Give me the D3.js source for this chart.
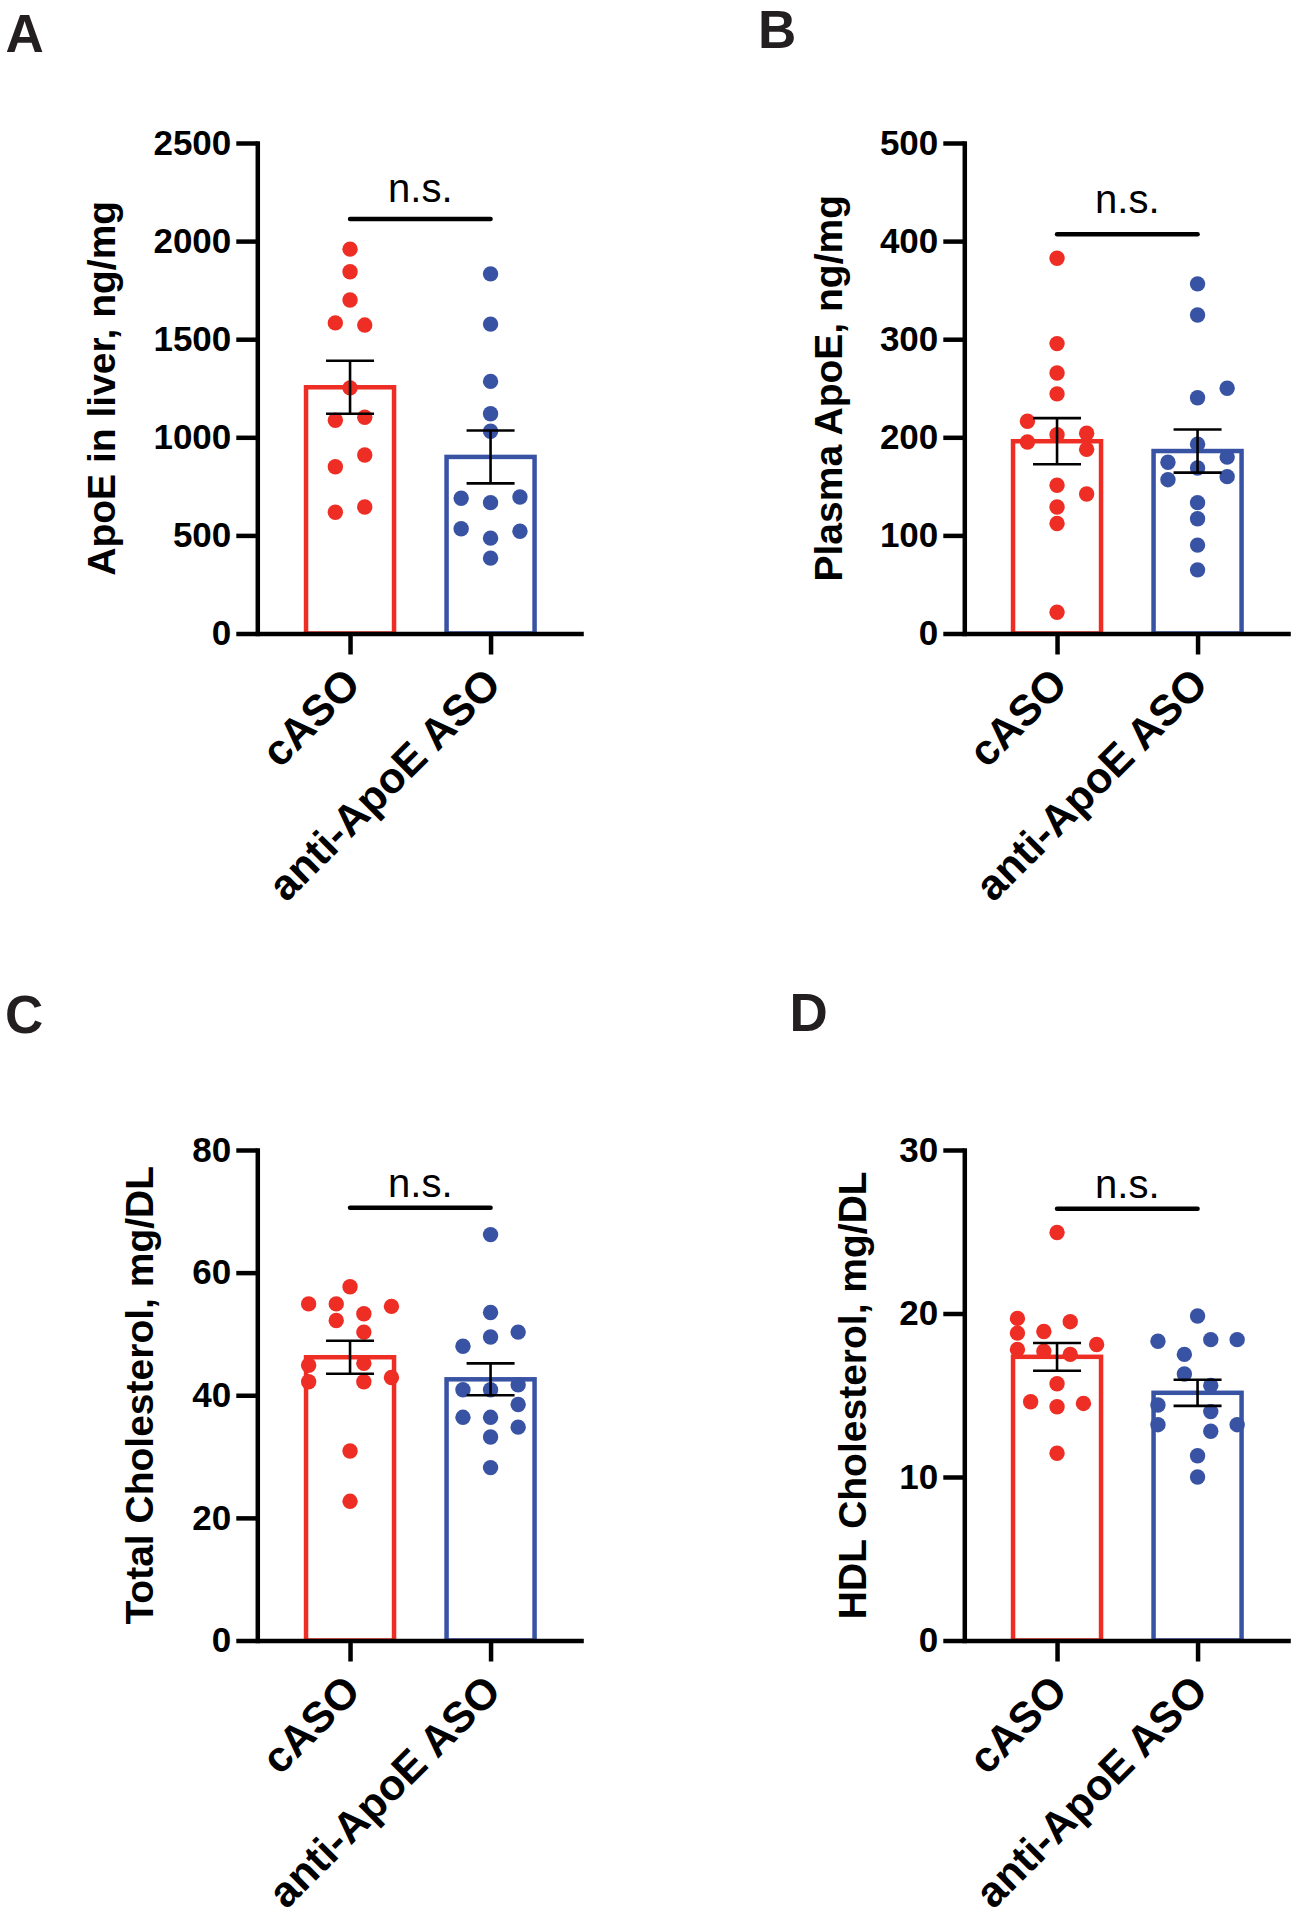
<!DOCTYPE html>
<html>
<head>
<meta charset="utf-8">
<script src="https://cdn.jsdelivr.net/npm/d3@7"></script>
<style>
  body { margin: 0; background: #fff; }
  svg { display: block; }
  text { font-family: "Liberation Sans", Arial, Helvetica, sans-serif; }
</style>
</head>
<body>
<svg id="fig" width="1297" height="1920"></svg>
<script>
/* ===== data ===== */
const groups = ["cASO", "anti-ApoE ASO"];
const groupColors = ["#ee2e24", "#3953a4"];

// A - ApoE in liver, ng/mg
const liverCaso = [1959, 1844, 1700, 1583, 1572, 1252, 1102, 1087, 910, 850, 645, 618];
const liverCasoLane = [0, 0, 0, -1, 1, 0, 1, -1, 1, -1, 1, -1];
const liverAnti = [1833, 1577, 1285, 1120, 1031, 696, 689, 667, 534, 521, 486, 384];
const liverAntiLane = [0, 0, 0, 0, 0, 2, -2, 0, -2, 2, 0, 0];
const liverMean = [1255, 900];
const liverSem = [135, 135];
const liverTicks = [0, 500, 1000, 1500, 2000, 2500];
const liverSig = 2113;

// B - Plasma ApoE, ng/mg
const plasmaCaso = [382.5, 295.5, 265.5, 244.3, 216.4, 202.7, 204.1, 195.2, 187.7, 151.1, 142.2, 129, 112.2, 21.6];
const plasmaCasoLane = [0, 0, 0, 0, -2, 0, 2, -2, 2, 0, 2, 0, 0, 0];
const plasmaAnti = [356.4, 324.6, 250, 240.3, 193, 174.5, 168.7, 179.8, 156.8, 159.9, 133.4, 117, 90.1, 64.9];
const plasmaAntiLane = [0, 0, 2, 0, 0, -2, 0, 2, -2, 2, 0, 0, 0, 0];
const plasmaMean = [196, 186];
const plasmaSem = [23.5, 22];
const plasmaTicks = [0, 100, 200, 300, 400, 500];
const plasmaSig = 407;

// C - Total Cholesterol, mg/DL
const tcCaso = [57.7, 54.9, 54.9, 54.5, 52.2, 53.3, 50.3, 44.9, 45.2, 42.2, 42.2, 42.9, 30.9, 22.7];
const tcCasoLane = [0, -3, -1, 3, -1, 1, 1, -3, 1, -3, 1, 3, 0, 0];
const tcAnti = [66.2, 53.5, 49.5, 50.3, 48, 40.9, 40.9, 41.7, 38.5, 36.4, 36.4, 34.8, 33.2, 28.2];
const tcAntiLane = [0, 0, 0, 2, -2, -2, 0, 2, 2, -2, 0, 2, 0, 0];
const tcMean = [46.2, 42.6];
const tcSem = [2.7, 2.6];
const tcTicks = [0, 20, 40, 60, 80];
const tcSig = 70.6;

// D - HDL Cholesterol, mg/DL
const hdlCaso = [24.95, 19.7, 19.5, 18.8, 18.9, 18.1, 17.8, 17.7, 17.5, 15.7, 14.6, 14.3, 14.5, 11.45];
const hdlCasoLane = [0, -3, 1, -3, -1, 3, -3, -1, 1, 0, -2, 0, 2, 0];
const hdlAnti = [19.85, 18.3, 18.4, 18.4, 17.5, 16.3, 15.6, 14.4, 14.0, 13.2, 12.8, 13.2, 11.3, 10.0];
const hdlAntiLane = [0, -3, 1, 3, -1, -1, 1, -3, 1, -3, 1, 3, 0, 0];
const hdlMean = [17.35, 15.15];
const hdlSem = [0.85, 0.8];
const hdlTicks = [0, 10, 20, 30];
const hdlSig = 26.4;

/* ===== panel layout ===== */
const panels = [
  { letter: "A", title: "ApoE in liver, ng/mg", pts: [liverCaso, liverAnti], lanes: [liverCasoLane, liverAntiLane],
    mean: liverMean, sem: liverSem, ticks: liverTicks, sig: liverSig,
    x0: 257.3, y0: 633.5, titleX: 114.6, laneW: 14.7, nsGap: 17, lx: 5.5, ly: 52 },
  { letter: "B", title: "Plasma ApoE, ng/mg", pts: [plasmaCaso, plasmaAnti], lanes: [plasmaCasoLane, plasmaAntiLane],
    mean: plasmaMean, sem: plasmaSem, ticks: plasmaTicks, sig: plasmaSig,
    x0: 964.3, y0: 633.5, titleX: 841.6, laneW: 14.8, nsGap: 21, lx: 758, ly: 48 },
  { letter: "C", title: "Total Cholesterol, mg/DL", pts: [tcCaso, tcAnti], lanes: [tcCasoLane, tcAntiLane],
    mean: tcMean, sem: tcSem, ticks: tcTicks, sig: tcSig,
    x0: 257.3, y0: 1640.5, titleX: 152.8, laneW: 13.8, nsGap: 11, lx: 5, ly: 1033 },
  { letter: "D", title: "HDL Cholesterol, mg/DL", pts: [hdlCaso, hdlAnti], lanes: [hdlCasoLane, hdlAntiLane],
    mean: hdlMean, sem: hdlSem, ticks: hdlTicks, sig: hdlSig,
    x0: 964.3, y0: 1640.5, titleX: 866.3, laneW: 13.2, nsGap: 11, lx: 789.5, ly: 1031 }
];

const plotH = 490.5;
const axisLen = 326;
const barW = 88;
const capW = 48;
const dotR = 7.7;
const ink = "#000";

const svg = d3.select("#fig");

function drawPanel(p) {
  const g = svg.append("g");

  const y = d3.scaleLinear()
    .domain([0, d3.max(p.ticks)])
    .range([p.y0, p.y0 - plotH]);

  const x = d3.scalePoint()
    .domain(groups)
    .range([p.x0, p.x0 + axisLen])
    .padding(0.66);

  // panel letter
  g.append("text")
    .attr("x", p.lx).attr("y", p.ly)
    .attr("font-size", 53).attr("font-weight", "bold")
    .attr("fill", "#231f20")
    .text(p.letter);

  // bars
  g.selectAll("rect.bar")
    .data(groups)
    .enter().append("rect")
    .attr("class", "bar")
    .attr("x", d => x(d) - barW / 2)
    .attr("width", barW)
    .attr("y", (d, i) => y(p.mean[i]))
    .attr("height", (d, i) => p.y0 - y(p.mean[i]))
    .attr("fill", "#fff")
    .attr("stroke", (d, i) => groupColors[i])
    .attr("stroke-width", 4.5);

  // dots
  groups.forEach((grp, i) => {
    g.selectAll(null)
      .data(p.pts[i].map((v, k) => ({ v, lane: p.lanes[i][k] })))
      .enter().append("circle")
      .attr("cx", d => x(grp) + d.lane * p.laneW)
      .attr("cy", d => y(d.v))
      .attr("r", dotR)
      .attr("fill", groupColors[i]);
  });

  // error bars (mean +/- SEM)
  groups.forEach((grp, i) => {
    const cx = x(grp);
    const hi = y(p.mean[i] + p.sem[i]);
    const lo = y(p.mean[i] - p.sem[i]);
    const eb = g.append("g").attr("stroke", ink).attr("stroke-width", 2.6);
    eb.append("line").attr("x1", cx).attr("x2", cx).attr("y1", hi).attr("y2", lo);
    eb.append("line").attr("x1", cx - capW / 2).attr("x2", cx + capW / 2).attr("y1", hi).attr("y2", hi);
    eb.append("line").attr("x1", cx - capW / 2).attr("x2", cx + capW / 2).attr("y1", lo).attr("y2", lo);
  });

  // y axis
  const yAxis = g.append("g")
    .attr("transform", `translate(${p.x0},0)`)
    .call(d3.axisLeft(y).tickValues(p.ticks).tickFormat(d3.format("d"))
      .tickSize(21).tickSizeOuter(0).tickPadding(5));
  yAxis.select(".domain").attr("stroke", ink).attr("stroke-width", 4.5).attr("stroke-linecap", "square");
  yAxis.selectAll(".tick line").attr("stroke", ink).attr("stroke-width", 4.5);
  yAxis.selectAll(".tick text")
    .attr("font-family", null)
    .attr("font-size", 35).attr("font-weight", "bold").attr("fill", ink);

  // x axis
  const xAxis = g.append("g")
    .attr("transform", `translate(0,${p.y0})`)
    .call(d3.axisBottom(x).tickSize(21).tickSizeOuter(0));
  xAxis.select(".domain").attr("stroke", ink).attr("stroke-width", 4.5);
  xAxis.selectAll(".tick line").attr("stroke", ink).attr("stroke-width", 4.5);
  xAxis.selectAll(".tick text")
    .attr("font-family", null)
    .attr("font-size", 43).attr("font-weight", "bold").attr("fill", ink)
    .attr("x", 0).attr("y", 0).attr("dy", 0)
    .attr("text-anchor", "end")
    .attr("transform", "translate(12,53) rotate(-45)");

  // y axis title
  g.append("text")
    .attr("transform", `translate(${p.titleX},${p.y0 - plotH / 2}) rotate(-90)`)
    .attr("text-anchor", "middle")
    .attr("font-size", 39).attr("font-weight", "bold").attr("fill", ink)
    .text(p.title);

  // significance bracket
  const sx1 = x(groups[0]), sx2 = x(groups[1]);
  g.append("line")
    .attr("x1", sx1).attr("x2", sx2)
    .attr("y1", y(p.sig)).attr("y2", y(p.sig))
    .attr("stroke", ink).attr("stroke-width", 4.5).attr("stroke-linecap", "round");
  g.append("text")
    .attr("x", (sx1 + sx2) / 2).attr("y", y(p.sig) - p.nsGap)
    .attr("text-anchor", "middle")
    .attr("font-size", 40).attr("fill", ink)
    .text("n.s.");
}

panels.forEach(drawPanel);
</script>
</body>
</html>
